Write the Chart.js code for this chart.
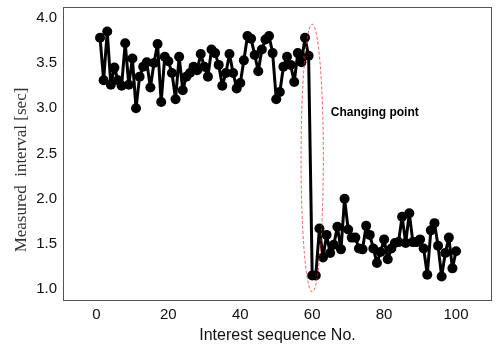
<!DOCTYPE html>
<html>
<head>
<meta charset="utf-8">
<script src="https://cdn.jsdelivr.net/npm/chart.js@4.4.1/dist/chart.umd.min.js"></script>
<style>
  html, body { margin: 0; padding: 0; background: #fff; }
  #wrap { width: 497px; height: 349px; }
</style>
</head>
<body>
<div id="wrap"><canvas id="grafica"></canvas></div>
<script>
// measured interval per interest (sequence 1..100)
const antes = [3.78, 3.31, 3.85, 3.26, 3.45, 3.31, 3.25, 3.72, 3.26, 3.55,
  3.00, 3.35, 3.46, 3.51, 3.23, 3.50, 3.71, 3.07, 3.57, 3.52,
  3.39, 3.10, 3.57, 3.20, 3.35, 3.39, 3.46, 3.42, 3.60, 3.46,
  3.35, 3.65, 3.61, 3.48, 3.25, 3.39, 3.60, 3.39, 3.22, 3.28,
  3.53, 3.80, 3.77, 3.59, 3.41, 3.65, 3.76, 3.80, 3.61, 3.10,
  3.18, 3.46, 3.57, 3.48, 3.29, 3.61, 3.51, 3.78, 3.58];
const despues = [1.15, 1.15, 1.67, 1.35, 1.60, 1.40, 1.49, 1.69, 1.44, 2.00,
  1.66, 1.57, 1.57, 1.45, 1.44, 1.70, 1.60, 1.45, 1.29, 1.41,
  1.55, 1.33, 1.45, 1.51, 1.52, 1.80, 1.51, 1.84, 1.52, 1.52,
  1.55, 1.45, 1.16, 1.65, 1.73, 1.48, 1.14, 1.40, 1.57, 1.23, 1.42];
const intervalos = antes.concat(despues);
const secuencia = intervalos.map((_, i) => i + 1);

const xTicks = [0, 20, 40, 60, 80, 100];
const yTicks = [1.0, 1.5, 2.0, 2.5, 3.0, 3.5, 4.0];

// changing point ellipse (center x, center y, half width, half height)
const cambio = { x: 60, y: 2.45, rx: 3.1, ry: 1.48 };
const etiqueta = { x: 77.4, y: 2.95, texto: "Changing point" };
const tramosRojos = [[57, 58], [61, 62]];

const puntos = secuencia.map((x, i) => ({ x, y: intervalos[i] }));
const rojos = [];
tramosRojos.forEach(([a, b]) => {
  rojos.push({ x: a, y: intervalos[a - 1] }, { x: b, y: intervalos[b - 1] }, { x: b + 0.5, y: null });
});

const marcoPlugin = {
  id: "marco",
  afterDraw(c) {
    const { ctx, chartArea: a, scales } = c;
    ctx.save();
    ctx.strokeStyle = "#555";
    ctx.lineWidth = 1;
    ctx.strokeRect(a.left + 0.5, a.top + 0.5, a.right - a.left - 1, a.bottom - a.top);
    // ellipse
    const cx = scales.x.getPixelForValue(cambio.x);
    const cy = scales.y.getPixelForValue(cambio.y);
    const rx = Math.abs(scales.x.getPixelForValue(cambio.x + cambio.rx) - cx);
    const ry = Math.abs(scales.y.getPixelForValue(cambio.y + cambio.ry) - cy);
    ctx.beginPath();
    ctx.setLineDash([3, 2]);
    ctx.strokeStyle = "rgba(230,40,40,0.9)";
    ctx.lineWidth = 0.8;
    ctx.ellipse(cx, cy, rx, ry, 0, 0, Math.PI * 2);
    ctx.stroke();
    ctx.setLineDash([]);
    // label
    ctx.fillStyle = "#000";
    ctx.font = "bold 12px 'Liberation Sans', Arial, sans-serif";
    ctx.textAlign = "center";
    ctx.textBaseline = "middle";
    ctx.fillText(etiqueta.texto, scales.x.getPixelForValue(etiqueta.x), scales.y.getPixelForValue(etiqueta.y));
    // y title
    ctx.save();
    ctx.translate(22, 170);
    ctx.rotate(-Math.PI / 2);
    ctx.font = "17px 'Liberation Serif', 'Times New Roman', serif";
    ctx.fillStyle = "#333";
    ctx.fillText("Measured  interval [sec]", 0, 0);
    ctx.restore();
    ctx.restore();
  }
};

new Chart(document.getElementById("grafica"), {
  type: "line",
  data: {
    datasets: [{
      data: puntos,
      borderColor: "#000",
      backgroundColor: "#000",
      borderWidth: 3,
      borderJoinStyle: "round",
      pointRadius: 5,
      pointBorderWidth: 0,
      tension: 0
    }, {
      data: rojos,
      borderColor: "rgba(200,20,20,0.9)",
      borderWidth: 1.2,
      pointRadius: 0,
      spanGaps: false,
      tension: 0
    }]
  },
  options: {
    responsive: true,
    maintainAspectRatio: false,
    animation: false,
    layout: { padding: { top: 7, right: 2, left: 0, bottom: 0 } },
    plugins: { legend: { display: false }, tooltip: { enabled: false } },
    scales: {
      x: {
        type: "linear",
        min: -9.3,
        max: 110,
        grid: { display: false, drawTicks: false },
        border: { display: false },
        afterBuildTicks: s => { s.ticks = xTicks.map(v => ({ value: v })); },
        afterFit: s => { s.height = 49; s.paddingLeft = 0; s.paddingRight = 0; },
        ticks: { color: "#111", padding: 6, font: { family: "'Liberation Sans', Arial, sans-serif", size: 15 } },
        title: { display: true, text: "Interest sequence No.", color: "#111", padding: { top: 1 }, font: { family: "'Liberation Sans', Arial, sans-serif", size: 16 } }
      },
      y: {
        min: 0.88,
        max: 4.12,
        grid: { display: false, drawTicks: false },
        border: { display: false },
        afterBuildTicks: s => { s.ticks = yTicks.map(v => ({ value: v })); },
        afterFit: s => { s.width = 63; s.paddingTop = 0; s.paddingBottom = 0; },
        ticks: { color: "#111", padding: 6, callback: v => Number(v).toFixed(1), font: { family: "'Liberation Sans', Arial, sans-serif", size: 15 } }
      }
    }
  },
  plugins: [marcoPlugin]
});
</script>
</body>
</html>
